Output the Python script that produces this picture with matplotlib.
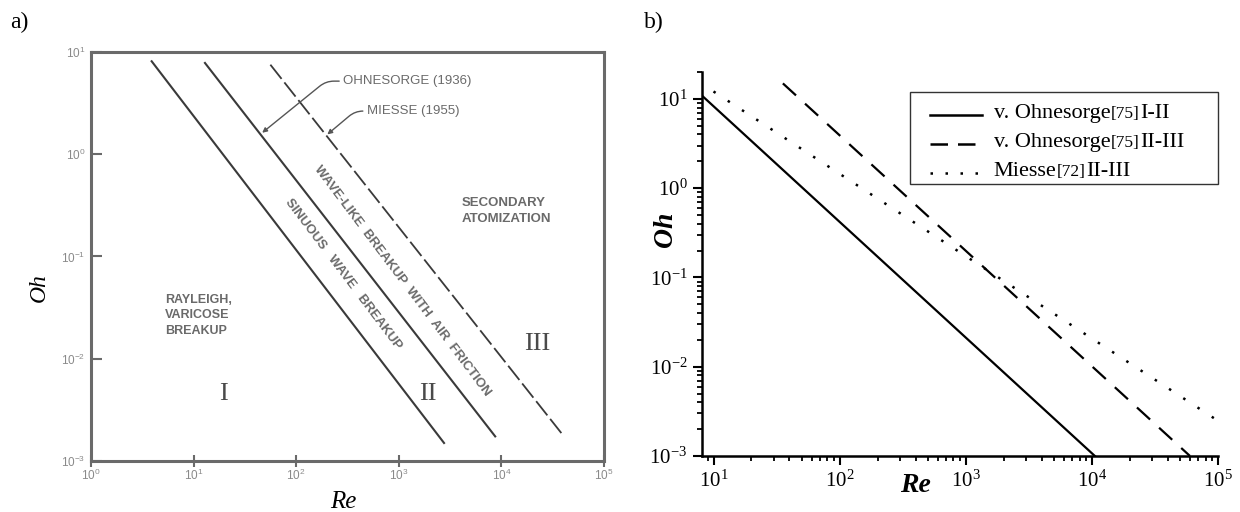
import numpy as np
import matplotlib
matplotlib.use('Agg')
import matplotlib.pyplot as plt
from matplotlib.ticker import FuncFormatter, NullFormatter, LogLocator
from matplotlib.lines import Line2D
from matplotlib.offsetbox import AnchoredOffsetbox, HPacker, VPacker, TextArea, DrawingArea

plt.rcParams['font.family'] = ['Liberation Serif', 'DejaVu Serif']
plt.rcParams['mathtext.fontset'] = 'custom'
plt.rcParams['mathtext.rm'] = 'Liberation Serif'

# a) scanned chart, three boundary lines
a_re_1 = [3.9, 2760]
a_oh_1 = [8.1, 0.0015]
a_re_2 = [12.9, 8700]
a_oh_2 = [7.8, 0.00174]
a_re_3 = [56, 40000]
a_oh_3 = [7.5, 0.00178]

# b) re-plotted criteria
re_ohn_12 = [8.2, 10570]
oh_ohn_12 = [10.7, 1e-3]
re_ohn_23 = [35.5, 60000]
oh_ohn_23 = [14.9, 1e-3]
re_miesse = [10, 95000]
oh_miesse = [12.1, 0.0026]

legend_names = ['v. Ohnesorge', 'v. Ohnesorge', 'Miesse']
legend_refs = ['[75]', '[75]', '[72]']
legend_ranges = ['I-II', 'II-III', 'II-III']


def pow10(v, pos):
    return r'$\mathregular{10^{%d}}$' % round(np.log10(v))


fig = plt.figure(figsize=(12.4, 5.12), dpi=100)

# ---------------- panel a ----------------
ax1 = fig.add_axes([0.0734, 0.0996, 0.4137, 0.799])
ax1.set_xscale('log')
ax1.set_yscale('log')
ax1.set_xlim(1, 1e5)
ax1.set_ylim(1e-3, 10)
line_c = '#3a3a3a'
ax1.plot(a_re_1, a_oh_1, color=line_c, lw=1.5)
ax1.plot(a_re_2, a_oh_2, color=line_c, lw=1.5)
ax1.plot(a_re_3, a_oh_3, color=line_c, lw=1.3, linestyle=(0, (10, 2.5)))

for s in ax1.spines.values():
    s.set_color('#6a6a6a')
    s.set_linewidth(2.2)
ax1.xaxis.set_major_locator(LogLocator(base=10, numticks=10))
ax1.yaxis.set_major_locator(LogLocator(base=10, numticks=10))
ax1.xaxis.set_minor_locator(plt.NullLocator())
ax1.yaxis.set_minor_locator(plt.NullLocator())
ax1.xaxis.set_major_formatter(FuncFormatter(pow10))
ax1.yaxis.set_major_formatter(FuncFormatter(pow10))
ax1.tick_params(axis='x', direction='inout', length=8, width=1.5, color='#6a6a6a',
                labelsize=8.5, labelcolor='#8a8a8a', pad=1, labelfontfamily='Liberation Sans')
ax1.tick_params(axis='y', direction='in', length=8, width=1.5, color='#6a6a6a',
                labelsize=8.5, labelcolor='#8a8a8a', pad=4, labelfontfamily='Liberation Sans')

ax1.set_xlabel('Re', style='italic', fontsize=18, va='center')
ax1.xaxis.set_label_coords(0.491, -0.10)
ax1.set_ylabel('Oh', style='italic', fontsize=17, va='center')
ax1.yaxis.set_label_coords(-0.10, 0.425)

gray = '#6a6a6a'
sans = 'Liberation Sans'
ax1.annotate('OHNESORGE (1936)', xy=(46.6, 1.62), xytext=(288, 5.18), fontsize=9.5,
             family=sans, color=gray, ha='left', va='center',
             arrowprops=dict(arrowstyle='-|>', color='#555555', lw=1, mutation_scale=7,
                             shrinkA=1, shrinkB=0,
                             connectionstyle='angle,angleA=0,angleB=39,rad=8'))
ax1.annotate('MIESSE (1955)', xy=(201, 1.56), xytext=(490, 2.64), fontsize=9.5,
             family=sans, color=gray, ha='left', va='center',
             arrowprops=dict(arrowstyle='-|>', color='#555555', lw=1, mutation_scale=7,
                             shrinkA=1, shrinkB=0,
                             connectionstyle='angle,angleA=0,angleB=40,rad=8'))
ax1.text(288, 0.0675, 'SINUOUS   WAVE   BREAKUP', rotation=-53, fontsize=9.5,
         family=sans, weight='bold', color=gray, ha='center', va='center',
         rotation_mode='anchor')
ax1.text(1089, 0.058, 'WAVE-LIKE  BREAKUP  WITH  AIR  FRICTION', rotation=-53,
         fontsize=9.5, family=sans, weight='bold', color=gray, ha='center',
         va='center', rotation_mode='anchor')
ax1.text(4120, 0.28, 'SECONDARY\nATOMIZATION', fontsize=9.5, family=sans,
         weight='bold', color=gray, ha='left', va='center', linespacing=1.4)
ax1.text(5.3, 0.0265, 'RAYLEIGH,\nVARICOSE\nBREAKUP', fontsize=9, family=sans,
         weight='bold', color=gray, ha='left', va='center', linespacing=1.4)
ax1.text(19.7, 0.00456, 'I', fontsize=19, color='#4a4a4a', ha='center', va='center')
ax1.text(1937, 0.00456, 'II', fontsize=19, color='#4a4a4a', ha='center', va='center')
ax1.text(22200, 0.014, 'III', fontsize=19, color='#4a4a4a', ha='center', va='center')

# ---------------- panel b ----------------
ax2 = fig.add_axes([0.5661, 0.1094, 0.4161, 0.75])
ax2.set_xscale('log')
ax2.set_yscale('log')
ax2.set_xlim(8.1, 1e5)
ax2.set_ylim(1e-3, 20)
ax2.plot(re_ohn_12, oh_ohn_12, color='k', lw=1.6)
ax2.plot(re_ohn_23, oh_ohn_23, color='k', lw=1.6, linestyle=(0, (8, 5.5)))
ax2.plot(re_miesse, oh_miesse, color='k', lw=1.8, linestyle=(0, (1, 5.8)),
         dash_capstyle='butt')

ax2.spines['top'].set_visible(False)
ax2.spines['right'].set_visible(False)
ax2.spines['left'].set_linewidth(1.8)
ax2.spines['bottom'].set_linewidth(1.8)
ax2.xaxis.set_major_locator(LogLocator(base=10, numticks=10))
ax2.yaxis.set_major_locator(LogLocator(base=10, numticks=10))
ax2.xaxis.set_minor_locator(LogLocator(base=10, subs=np.arange(2, 10), numticks=20))
ax2.yaxis.set_minor_locator(LogLocator(base=10, subs=np.arange(2, 10), numticks=20))
ax2.xaxis.set_major_formatter(FuncFormatter(pow10))
ax2.yaxis.set_major_formatter(FuncFormatter(pow10))
ax2.xaxis.set_minor_formatter(NullFormatter())
ax2.yaxis.set_minor_formatter(NullFormatter())
ax2.tick_params(which='major', direction='out', length=6.5, width=1.5, labelsize=15, pad=4)
ax2.tick_params(which='minor', direction='out', length=3.5, width=1.3)

ax2.set_xlabel('Re', style='italic', weight='bold', fontsize=20, va='center')
ax2.xaxis.set_label_coords(0.413, -0.078)
ax2.set_ylabel('Oh', style='italic', weight='bold', fontsize=20, va='center')
ax2.yaxis.set_label_coords(-0.071, 0.589)

# legend with smaller reference numbers
handle_styles = [dict(linestyle='-'), dict(linestyle=(0, (7, 4))),
                 dict(linestyle=(0, (1, 5)), dash_capstyle='butt')]
rows = [DrawingArea(1, 0, 0, 0)]
for name, ref, rng, st in zip(legend_names, legend_refs, legend_ranges, handle_styles):
    da = DrawingArea(50, 12, 0, 0)
    da.add_artist(Line2D([12, 50], [5, 5], color='k', lw=1.8, **st))
    txt = HPacker(children=[TextArea(name, textprops=dict(fontsize=16)),
                            TextArea(ref, textprops=dict(fontsize=12.5)),
                            TextArea(rng, textprops=dict(fontsize=16))],
                  align='baseline', pad=0, sep=0.5)
    rows.append(HPacker(children=[da, txt, DrawingArea(14, 12, 0, 0)],
                        align='center', pad=0, sep=8))
box = VPacker(children=rows, align='left', pad=0, sep=7)
leg = AnchoredOffsetbox(loc='upper right', child=box, pad=0.2, borderpad=0,
                        frameon=True, bbox_to_anchor=(1.0, 0.948),
                        bbox_transform=ax2.transAxes, prop=dict(size=10))
leg.patch.set_edgecolor('#333333')
leg.patch.set_linewidth(1)
leg.patch.set_boxstyle('square', pad=0)
ax2.add_artist(leg)

fig.text(10 / 1240, 1 - 22 / 512, 'a)', fontsize=17, ha='left', va='center')
fig.text(644 / 1240, 1 - 22 / 512, 'b)', fontsize=17, ha='left', va='center')

fig.savefig('out.png', dpi=100)
